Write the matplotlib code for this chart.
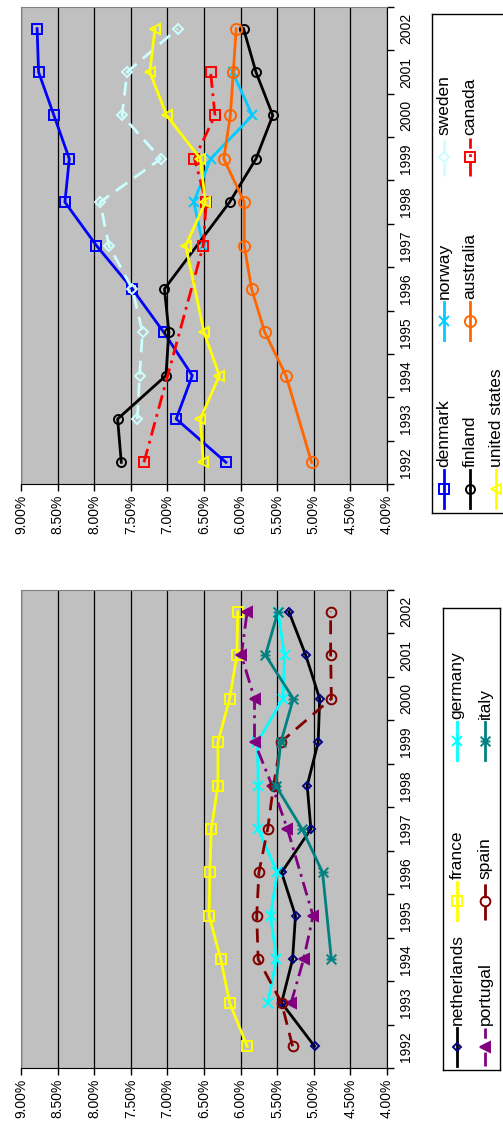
import numpy as np
import matplotlib
matplotlib.use("Agg")
import matplotlib.pyplot as plt
from matplotlib.path import Path

plt.rcParams['font.family'] = ['Liberation Sans', 'DejaVu Sans']

nan = np.nan
years = list(range(1992, 2003))
pct_ticks = [4.0, 4.5, 5.0, 5.5, 6.0, 6.5, 7.0, 7.5, 8.0, 8.5, 9.0]

# top chart
denmark = [6.20, 6.88, 6.66, 7.05, 7.48, 7.97, 8.40, 8.34, 8.55, 8.76, 8.78]
norway = [nan, nan, nan, nan, nan, 6.51, 6.64, 6.41, 5.84, 6.11, nan]
sweden = [nan, 7.41, 7.38, 7.34, 7.48, 7.80, 7.92, 7.09, 7.62, 7.55, 6.86]
finland = [7.63, 7.68, 7.02, 6.98, 7.04, nan, 6.15, 5.79, 5.56, 5.79, 5.96]
australia = [5.03, nan, 5.38, 5.67, 5.85, 5.95, 5.95, 6.23, 6.14, 6.10, 6.06]
canada = [7.32, nan, nan, nan, nan, 6.51, 6.47, 6.63, 6.35, 6.41, nan]
united_states = [6.51, 6.55, 6.29, 6.50, nan, 6.75, 6.48, 6.55, 7.01, 7.24, 7.17]

# bottom chart
netherlands = [4.99, 5.44, 5.29, 5.25, 5.44, 5.04, 5.09, 4.94, 4.92, 5.11, 5.34]
france = [5.91, 6.15, 6.27, 6.43, 6.42, 6.40, 6.31, 6.31, 6.15, 6.05, 6.04]
germany = [nan, 5.63, 5.51, 5.59, 5.50, 5.76, 5.76, 5.77, 5.42, 5.40, 5.49]
portugal = [nan, 5.31, 5.14, 5.01, nan, 5.36, 5.57, 5.81, 5.81, 5.99, 5.91]
spain = [5.29, 5.44, 5.76, 5.78, 5.75, 5.63, 5.55, 5.45, 4.76, 4.77, 4.77]
italy = [nan, nan, 4.76, nan, 4.88, 5.16, 5.52, 5.45, 5.28, 5.66, 5.49]

star = Path([(-1, -1), (1, 1), (-1, 1), (1, -1), (-1, 0), (1, 0)],
            [Path.MOVETO, Path.LINETO, Path.MOVETO, Path.LINETO, Path.MOVETO, Path.LINETO])

dash = (0, (5, 3))
dashdot = (0, (5, 2, 1, 2))

top_series = [
    ("denmark", denmark, dict(color="#0000ff", marker="s", ms=7, mfc="none")),
    ("norway", norway, dict(color="#00ccff", marker="x", ms=7)),
    ("sweden", sweden, dict(color="#ccffff", marker="D", ms=5.5, mfc="none", ls=dash)),
    ("finland", finland, dict(color="black", marker="o", ms=6.5, mfc="none")),
    ("australia", australia, dict(color="#ff6600", marker="o", ms=8, mfc="none")),
    ("canada", canada, dict(color="#ff0000", marker="s", ms=7, mfc="none", ls=dashdot)),
    ("united states", united_states, dict(color="#ffff00", marker="<", ms=7, mfc="none")),
]
bottom_series = [
    ("netherlands", netherlands, dict(color="black", marker="D", ms=4, mfc="none", mec="#000080")),
    ("france", france, dict(color="#ffff00", marker="s", ms=7, mfc="none")),
    ("germany", germany, dict(color="#00ffff", marker="x", ms=7)),
    ("portugal", portugal, dict(color="#800080", marker="<", ms=7, ls=dashdot)),
    ("spain", spain, dict(color="#800000", marker="o", ms=7, mfc="none", ls=dash)),
    ("italy", italy, dict(color="#008080", marker=star, ms=7)),
]

W, H = 503, 1126
fig = plt.figure(figsize=(W / 100, H / 100), dpi=100)


def px_axes(x0, y0, x1, y1):
    return fig.add_axes([x0 / W, 1 - y1 / H, (x1 - x0) / W, (y1 - y0) / H])


def draw_panel(box, series):
    ax = px_axes(*box)
    ax.set_facecolor("#c0c0c0")
    ax.set_xlim(9.0, 4.0)
    ax.set_ylim(0, len(years))
    ax.set_xticks(pct_ticks)
    ax.set_xticklabels(["%.2f%%" % v for v in pct_ticks], rotation=90, fontsize=10)
    ax.set_yticks(range(len(years) + 1))
    ax.set_yticklabels([])
    ax.set_yticks([i + 0.5 for i in range(len(years))], minor=True)
    ax.set_yticklabels([str(y) for y in years], minor=True, rotation=90, va="center", fontsize=10)
    ax.tick_params(axis="y", which="both", left=False, right=True, labelleft=False, labelright=True)
    ax.tick_params(axis="y", which="minor", length=0, pad=9)
    ax.tick_params(axis="y", which="major", length=5, width=1)
    ax.tick_params(axis="x", length=5, width=1, pad=3)
    ax.grid(axis="x", color="black", lw=0.9)
    ax.set_axisbelow(True)
    for s in ("left", "top"):
        ax.spines[s].set_color("#808080")
    for s in ("right", "bottom"):
        ax.spines[s].set_color("black")
    for name, vals, st in series:
        v = np.array(vals, float)
        ok = ~np.isnan(v)
        yy = np.arange(len(years))[ok] + 0.5
        st = dict(st)
        st.setdefault("mec", st["color"])
        ax.plot(v[ok], yy, lw=2, mew=1.4, clip_on=False, **st)
    return ax


def draw_legend(box, series, rows, cols_y):
    lax = px_axes(*box)
    x0, y0, x1, y1 = box
    lax.set_xlim(x0, x1)
    lax.set_ylim(y1, y0)
    lax.set_xticks([])
    lax.set_yticks([])
    for s in lax.spines.values():
        s.set_color("black")
        s.set_linewidth(1)
    for k, (name, vals, st) in enumerate(series):
        x = rows[k // 3]
        yb = cols_y[k % 3]
        st = dict(st)
        st.setdefault("mec", st["color"])
        marker = st.pop("marker")
        ms = st.pop("ms")
        mfc = st.pop("mfc", st["color"])
        mec = st.pop("mec")
        lax.plot([x, x], [yb, yb - 38], lw=2, **st)
        lax.plot([x], [yb - 19], ls="none", marker=marker, ms=ms, mfc=mfc, mec=mec, mew=1.4)
        lax.text(x, yb - 41, name, rotation=90, ha="center", va="bottom", fontsize=12.5)


draw_panel((21, 7, 387, 484), top_series)
draw_panel((21, 590, 387, 1068), bottom_series)
draw_legend((432, 14, 516, 513), top_series, [444, 470, 496], [508, 340, 176])
draw_legend((443, 608, 500, 1070), bottom_series, [457, 485], [1066, 920, 760])

fig.savefig("out.png", dpi=100)
